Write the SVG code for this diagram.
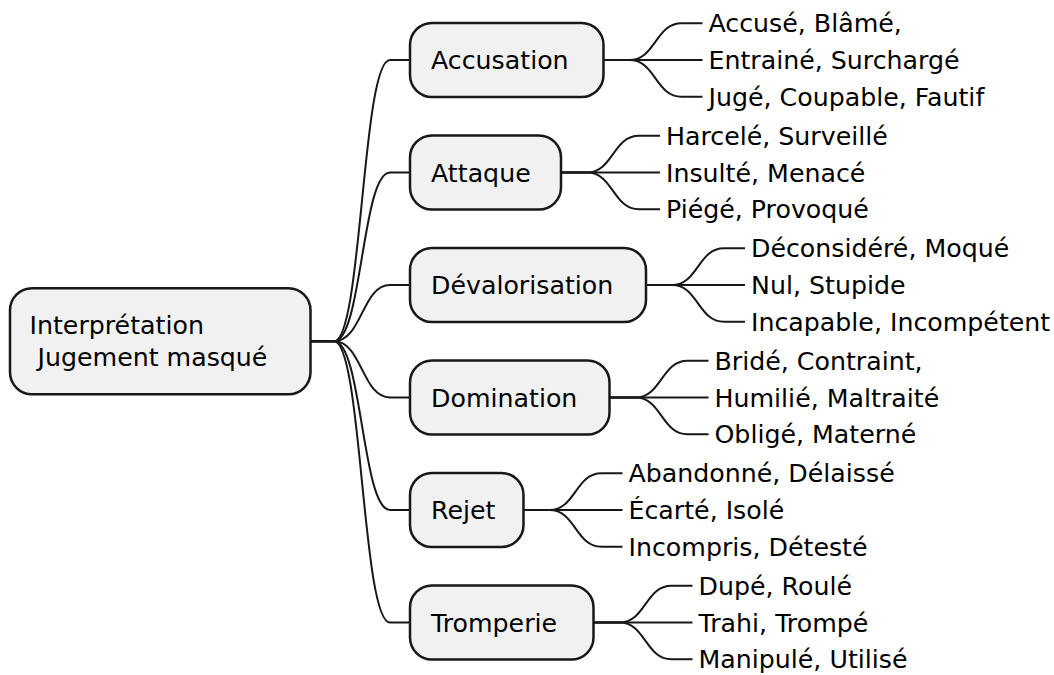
<svg xmlns="http://www.w3.org/2000/svg" width="1054" height="675" viewBox="0 0 1054 675">
<style>
.box{fill:#F1F1F1;stroke:#181818;stroke-width:2.5}
.ln{fill:none;stroke:#181818;stroke-width:2}
text{font-family:"DejaVu Sans","Liberation Sans",sans-serif;font-size:25.25px;fill:#000000;white-space:pre}
</style>
<rect width="1054" height="675" fill="#FFFFFF"/>
<g id="connectors">
<path class="ln" d="M310.5,341.25 H334 C362,341.25 362,60 390,60 H410"/>
<path class="ln" d="M310.5,341.25 H334 C362,341.25 362,172.5 390,172.5 H410"/>
<path class="ln" d="M310.5,341.25 H334 C362,341.25 362,285 390,285 H410"/>
<path class="ln" d="M310.5,341.25 H334 C362,341.25 362,397.5 390,397.5 H410"/>
<path class="ln" d="M310.5,341.25 H334 C362,341.25 362,510 390,510 H410"/>
<path class="ln" d="M310.5,341.25 H334 C362,341.25 362,622.5 390,622.5 H410"/>
<path class="ln" d="M603.5,60 H629.5 C655.5,60 655.5,23.3 681.5,23.3 H702.5"/>
<path class="ln" d="M603.5,60 H702.5"/>
<path class="ln" d="M603.5,60 H629.5 C655.5,60 655.5,96.7 681.5,96.7 H702.5"/>
<path class="ln" d="M561,172.5 H587 C613,172.5 613,135.8 639,135.8 H660"/>
<path class="ln" d="M561,172.5 H660"/>
<path class="ln" d="M561,172.5 H587 C613,172.5 613,209.2 639,209.2 H660"/>
<path class="ln" d="M646,285 H672 C698,285 698,248.3 724,248.3 H745"/>
<path class="ln" d="M646,285 H745"/>
<path class="ln" d="M646,285 H672 C698,285 698,321.7 724,321.7 H745"/>
<path class="ln" d="M609.5,397.5 H635.5 C661.5,397.5 661.5,360.8 687.5,360.8 H708.5"/>
<path class="ln" d="M609.5,397.5 H708.5"/>
<path class="ln" d="M609.5,397.5 H635.5 C661.5,397.5 661.5,434.2 687.5,434.2 H708.5"/>
<path class="ln" d="M523.5,510 H549.5 C575.5,510 575.5,473.3 601.5,473.3 H622.5"/>
<path class="ln" d="M523.5,510 H622.5"/>
<path class="ln" d="M523.5,510 H549.5 C575.5,510 575.5,546.7 601.5,546.7 H622.5"/>
<path class="ln" d="M593.5,622.5 H619.5 C645.5,622.5 645.5,585.8 671.5,585.8 H692.5"/>
<path class="ln" d="M593.5,622.5 H692.5"/>
<path class="ln" d="M593.5,622.5 H619.5 C645.5,622.5 645.5,659.2 671.5,659.2 H692.5"/>
</g>
<g id="root">
<rect class="box" x="10" y="288.25" width="300.5" height="106" rx="22"/>
<text x="29.5" y="334.25">Interprétation</text>
<text x="29.5" y="366.25"> Jugement masqué</text>
</g>
<g id="accusation">
<rect class="box" x="410" y="23" width="193.5" height="74" rx="22"/>
<text x="431" y="69">Accusation</text>
</g>
<g id="attaque">
<rect class="box" x="410" y="135.5" width="151" height="74" rx="22"/>
<text x="431" y="181.5">Attaque</text>
</g>
<g id="devalorisation">
<rect class="box" x="410" y="248" width="236" height="74" rx="22"/>
<text x="431" y="294">Dévalorisation</text>
</g>
<g id="domination">
<rect class="box" x="410" y="360.5" width="199.5" height="74" rx="22"/>
<text x="431" y="406.5">Domination</text>
</g>
<g id="rejet">
<rect class="box" x="410" y="473" width="113.5" height="74" rx="22"/>
<text x="431" y="519">Rejet</text>
</g>
<g id="tromperie">
<rect class="box" x="410" y="585.5" width="183.5" height="74" rx="22"/>
<text x="431" y="631.5">Tromperie</text>
</g>
<g id="leaves-accusation">
<text x="708.5" y="32.3">Accusé, Blâmé,</text>
<text x="708.5" y="69">Entrainé, Surchargé</text>
<text x="708.5" y="105.7">Jugé, Coupable, Fautif</text>
</g>
<g id="leaves-attaque">
<text x="666" y="144.8">Harcelé, Surveillé</text>
<text x="666" y="181.5">Insulté, Menacé</text>
<text x="666" y="218.2">Piégé, Provoqué</text>
</g>
<g id="leaves-devalorisation">
<text x="751" y="257.3">Déconsidéré, Moqué</text>
<text x="751" y="294">Nul, Stupide</text>
<text x="751" y="330.7">Incapable, Incompétent</text>
</g>
<g id="leaves-domination">
<text x="714.5" y="369.8">Bridé, Contraint,</text>
<text x="714.5" y="406.5">Humilié, Maltraité</text>
<text x="714.5" y="443.2">Obligé, Materné</text>
</g>
<g id="leaves-rejet">
<text x="628.5" y="482.3">Abandonné, Délaissé</text>
<text x="628.5" y="519">Écarté, Isolé</text>
<text x="628.5" y="555.7">Incompris, Détesté</text>
</g>
<g id="leaves-tromperie">
<text x="698.5" y="594.8">Dupé, Roulé</text>
<text x="698.5" y="631.5">Trahi, Trompé</text>
<text x="698.5" y="668.2">Manipulé, Utilisé</text>
</g>
</svg>
